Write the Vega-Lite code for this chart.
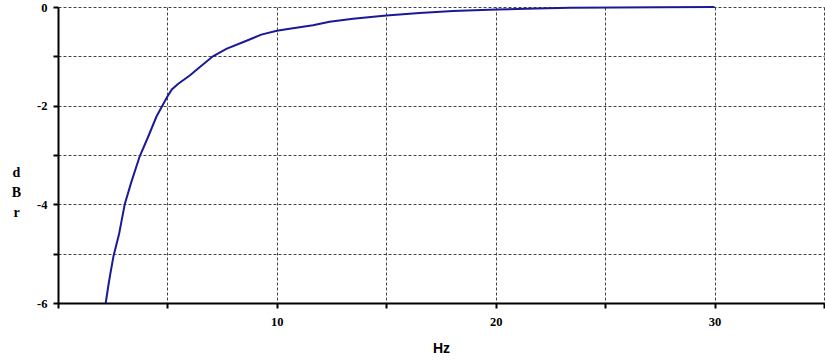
{
  "$schema": "https://vega.github.io/schema/vega-lite/v6.json",
  "width": 766,
  "height": 296,
  "autosize": {"type": "none"},
  "padding": {"left": 58, "top": 7, "right": 1, "bottom": 59},
  "background": "white",
  "config": {"view": {"stroke": null}},
  "data": {"values": [
    {"hz": 2.18, "dbr": -6.0},
    {"hz": 2.3, "dbr": -5.65},
    {"hz": 2.39, "dbr": -5.41},
    {"hz": 2.54, "dbr": -5.04},
    {"hz": 2.79, "dbr": -4.6},
    {"hz": 2.92, "dbr": -4.3},
    {"hz": 3.05, "dbr": -4.0},
    {"hz": 3.35, "dbr": -3.55},
    {"hz": 3.73, "dbr": -3.03},
    {"hz": 4.11, "dbr": -2.64},
    {"hz": 4.5, "dbr": -2.22},
    {"hz": 4.98, "dbr": -1.83},
    {"hz": 5.2, "dbr": -1.67},
    {"hz": 5.48, "dbr": -1.56},
    {"hz": 6.02, "dbr": -1.39},
    {"hz": 6.47, "dbr": -1.22},
    {"hz": 7.08, "dbr": -1.0},
    {"hz": 7.69, "dbr": -0.85},
    {"hz": 8.53, "dbr": -0.7},
    {"hz": 9.29, "dbr": -0.56},
    {"hz": 10.0, "dbr": -0.48},
    {"hz": 10.58, "dbr": -0.44},
    {"hz": 11.65, "dbr": -0.37},
    {"hz": 12.41, "dbr": -0.3},
    {"hz": 13.48, "dbr": -0.24},
    {"hz": 15.0, "dbr": -0.17},
    {"hz": 16.52, "dbr": -0.12},
    {"hz": 18.05, "dbr": -0.08},
    {"hz": 20.03, "dbr": -0.05},
    {"hz": 21.86, "dbr": -0.03},
    {"hz": 23.4, "dbr": -0.015},
    {"hz": 25.5, "dbr": -0.008},
    {"hz": 27.5, "dbr": -0.003},
    {"hz": 30.0, "dbr": 0.0}
  ]},
  "mark": {"type": "line", "color": "#1a1a96", "strokeWidth": 2, "clip": false},
  "encoding": {
    "x": {
      "field": "hz", "type": "quantitative",
      "scale": {"domain": [0, 35], "nice": false, "zero": false},
      "axis": {
        "values": [0, 5, 10, 15, 20, 25, 30, 35],
        "labelExpr": "(datum.value % 10 == 0 && datum.value > 0) ? datum.label : ''",
        "title": "Hz",
        "titleFont": "Liberation Sans", "titleFontSize": 14, "titleFontWeight": "bold", "titleColor": "black",
        "titleY": 45, "titleBaseline": "middle",
        "labelFont": "Liberation Serif", "labelFontSize": 12.5, "labelFontWeight": "bold", "labelColor": "black",
        "labelPadding": 7,
        "domainColor": "black", "domainWidth": 2,
        "tickColor": "black", "tickWidth": 2, "tickSize": 5,
        "grid": true, "gridColor": "#444", "gridDash": [3, 2], "gridWidth": 1
      }
    },
    "y": {
      "field": "dbr", "type": "quantitative",
      "scale": {"domain": [-6, 0], "nice": false, "zero": false},
      "axis": {
        "values": [-6, -5, -4, -3, -2, -1, 0],
        "labelExpr": "(datum.value % 2 != 0) ? '' : (datum.value == 0 ? '0' : '-' + format(-datum.value, 'd'))",
        "title": ["d", "B", "r"],
        "titleAngle": 0, "titleAlign": "center", "titleBaseline": "middle",
        "titleX": -42, "titleY": 165, "titleLineHeight": 20,
        "titleFont": "Liberation Serif", "titleFontSize": 14, "titleFontWeight": "bold", "titleColor": "black",
        "labelFont": "Liberation Serif", "labelFontSize": 12.5, "labelFontWeight": "bold", "labelColor": "black",
        "labelPadding": 6,
        "domainColor": "black", "domainWidth": 2,
        "tickColor": "black", "tickWidth": 2, "tickSize": 5,
        "grid": true, "gridColor": "#444", "gridDash": [3, 2], "gridWidth": 1
      }
    }
  }
}
